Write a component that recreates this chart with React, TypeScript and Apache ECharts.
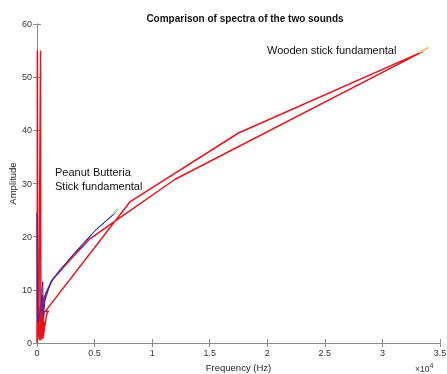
import React, { useEffect, useRef } from "react";
import * as echarts from "echarts";

const titleText = "Comparison of spectra of the two sounds";
const xTicks = [0, 0.5, 1, 1.5, 2, 2.5, 3, 3.5];
const yTicks = [0, 10, 20, 30, 40, 50, 60];

// Red spectrum (x in units of 10^4 Hz), traced in drawing order
const redSpectrum: [number, number][] = [
  [0, 0], [0, 24.5], [0.002, 0.5], [0.003, 55], [0.007, 1], [0.012, 7], [0.016, 2],
  [0.031, 55], [0.034, 0.5], [0.012, 9.5], [0.02, 2], [0.038, 6.5], [0.024, 1.5],
  [0.05, 9], [0.03, 3], [0.052, 1], [0.044, 5], [0.058, 2], [0.048, 1],
  [0.06, 4], [0.04, 0.8], [0.055, 7.5], [0.035, 2.5], [0.062, 6], [0.045, 1.5],
  [0.068, 3], [0.05, 0.8], [0.085, 5.5], [0.1, 6], [0.07, 5.9], [0.81, 26.6],
  [1.75, 39.5], [3.35, 54.8], [1.2, 30.8], [0.65, 22.5], [0.46, 19.6],
  [0.32, 16.4], [0.2, 13.5], [0.13, 11.8], [0.08, 9.5], [0.04, 7], [0.026, 5.5],
  [0.03, 2], [0.015, 4], [0.02, 0.5],
];

// Blue spectrum
const blueSpectrum: [number, number][] = [
  [0, 24.5], [0.005, 4], [0.03, 6], [0.05, 11.5], [0.055, 5], [0.07, 8],
  [0.12, 11.5], [0.2, 13.8], [0.3, 16.2], [0.4, 18.5], [0.5, 21], [0.6, 23],
  [0.68, 24.5], [0.62, 23.3], [0.52, 21.5], [0.42, 19.2], [0.32, 16.8],
  [0.22, 14.2], [0.14, 12], [0.08, 9.5], [0.05, 6],
];

const greenSpectrum: [number, number][] = [[0.665, 24.4], [0.7, 25.2]];
const yellowSpectrum: [number, number][] = [[3.32, 54.6], [3.4, 55.6]];

const annotations = [
  { text: "Wooden stick fundamental", x: 267, y: 51 },
  { text: "Peanut Butteria", x: 55, y: 173 },
  { text: "Stick fundamental", x: 55, y: 187 },
];

const FONT = "Liberation Sans, Arial, Helvetica, sans-serif";

export default function App() {
  const ref = useRef<HTMLDivElement>(null);
  useEffect(() => {
    if (!ref.current) return;
    const chart = echarts.init(ref.current, undefined, { renderer: "svg" });
    const axisLine = { show: true, lineStyle: { color: "#8a8a8a", width: 1 } };
    const tickStyle = { show: true, inside: true, length: 4, lineStyle: { color: "#8a8a8a" } };
    const lineSeries = (data: [number, number][], color: string, width: number) => ({
      type: "line",
      data,
      showSymbol: false,
      symbol: "none",
      lineStyle: { color, width },
      silent: true,
    });
    chart.setOption({
      animation: false,
      title: {
        text: titleText,
        left: 240,
        top: 8,
        textAlign: "center",
        textStyle: { fontSize: 10, fontWeight: "bold", color: "#111", fontFamily: FONT },
      },
      grid: {
        left: 37,
        right: 7,
        top: 24,
        bottom: 31,
        containLabel: false,
        outerBoundsMode: "none",
      },
      xAxis: [
        {
          type: "value",
          min: 0,
          max: 3.5,
          interval: 0.5,
          axisLine,
          axisTick: tickStyle,
          splitLine: { show: false },
          axisLabel: {
            fontSize: 9,
            color: "#333",
            margin: 5,
            fontFamily: FONT,
            showMaxLabel: true,
            formatter: (v: number) => String(v),
          },
          name: "Frequency (Hz)",
          nameLocation: "middle",
          nameGap: 19,
          nameTextStyle: { fontSize: 9.5, color: "#222", fontFamily: FONT },
        },
        {
          type: "value",
          position: "top",
          min: 0,
          max: 3.5,
          interval: 0.5,
          axisLine,
          axisTick: tickStyle,
          axisLabel: { show: false },
          splitLine: { show: false },
        },
      ],
      yAxis: [
        {
          type: "value",
          min: 0,
          max: 60,
          interval: 10,
          axisLine,
          axisTick: tickStyle,
          splitLine: { show: false },
          axisLabel: { fontSize: 9, color: "#333", margin: 5, fontFamily: FONT },
          name: "Amplitude",
          nameLocation: "middle",
          nameGap: 20,
          nameMoveOverlap: false,
          nameTextStyle: { fontSize: 9.5, color: "#222", fontFamily: FONT },
        },
        {
          type: "value",
          position: "right",
          min: 0,
          max: 60,
          interval: 10,
          axisLine,
          axisTick: tickStyle,
          axisLabel: { show: false },
          splitLine: { show: false },
        },
      ],
      series: [
        lineSeries(redSpectrum, "#e8141c", 1.5),
        lineSeries(blueSpectrum, "#2828c8", 1),
        lineSeries(greenSpectrum, "#9be08a", 2),
        lineSeries(yellowSpectrum, "#f6c36a", 2),
      ],
      graphic: [
        ...annotations.map((a) => ({
          type: "text",
          left: a.x,
          top: a.y - 7,
          style: { text: a.text, fontSize: 11, fill: "#111", fontFamily: FONT },
        })),
        {
          type: "text",
          left: 415,
          top: 362,
          style: {
            text: "×10{s|4}",
            rich: { s: { fontSize: 7, verticalAlign: "top", padding: [0, 0, 6, 0] } },
            fontSize: 8.5,
            fill: "#333",
            fontFamily: FONT,
          },
        },
      ],
    });
    return () => chart.dispose();
  }, []);
  return (
    <div
      ref={ref}
      style={{ position: "fixed", left: 0, top: 0, width: 447, height: 374 }}
    />
  );
}
